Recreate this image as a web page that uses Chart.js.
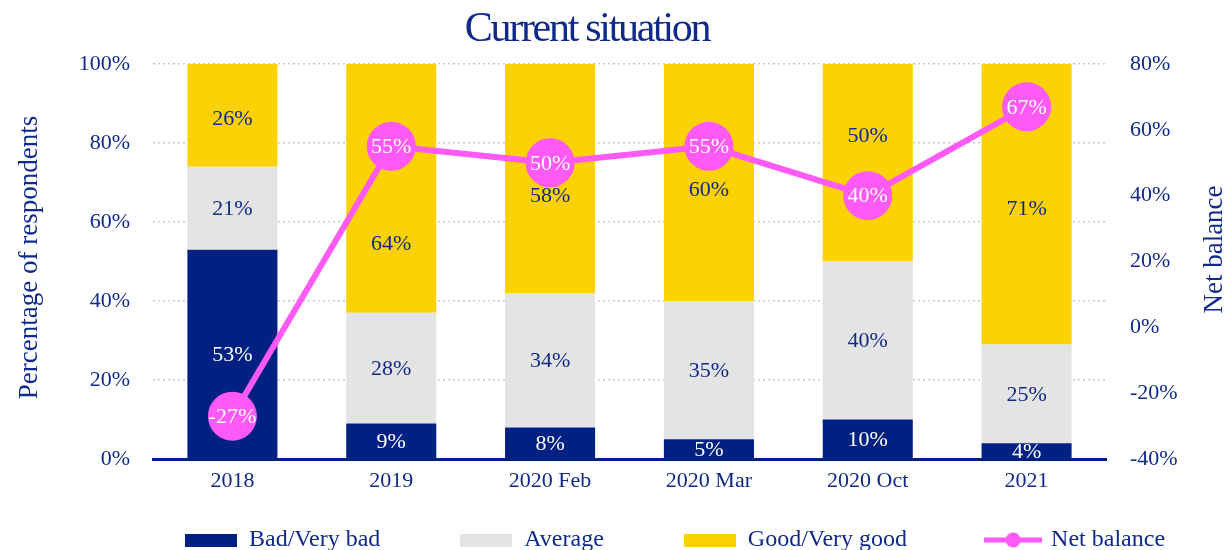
<!DOCTYPE html>
<html>
<head>
<meta charset="utf-8">
<script src="https://cdn.jsdelivr.net/npm/chart.js@4"></script>
<style>
  html, body { margin: 0; padding: 0; background: #fff; }
  #wrap { width: 1227px; height: 550px; }
</style>
</head>
<body>
<div id="wrap"><canvas id="chart"></canvas></div>
<script>
// chart data
const categories = ['2018', '2019', '2020 Feb', '2020 Mar', '2020 Oct', '2021'];
const bad = [53, 9, 8, 5, 10, 4];
const average = [21, 28, 34, 35, 40, 25];
const good = [26, 64, 58, 60, 50, 71];
const netBalance = [-27, 55, 50, 55, 40, 67];
const leftTicks = [0, 20, 40, 60, 80, 100];
const rightTicks = [-40, -20, 0, 20, 40, 60, 80];

const NAVY = '#002082';
const GREY = '#e4e4e4';
const YELLOW = '#fdd203';
const MAGENTA = '#ff5af6';
const TEXT = '#0f2a8a';
const FONT = '"Liberation Serif", "Times New Roman", serif';

// legend markers
function boxImg(color) {
    const c = document.createElement('canvas');
    c.width = 52; c.height = 13;
    const g = c.getContext('2d');
    g.fillStyle = color;
    g.fillRect(0, 0, 52, 13);
    return c;
}
function lineImg(color) {
    const c = document.createElement('canvas');
    c.width = 58; c.height = 16;
    const g = c.getContext('2d');
    g.strokeStyle = color;
    g.lineWidth = 5;
    g.beginPath(); g.moveTo(0, 8); g.lineTo(58, 8); g.stroke();
    g.fillStyle = color;
    g.beginPath(); g.arc(29, 8, 7.5, 0, Math.PI * 2); g.fill();
    return c;
}

// value labels on bars and points
// labels in the yellow segments are nudged (px) to keep clear of the circles
const nudge = { 2: [3, 57, 17, 7, -28, 4] };
const valueLabels = {
    id: 'valueLabels',
    afterDatasetDraw(chart, args) {
        const ds = chart.data.datasets[args.index];
        const meta = args.meta;
        const shift = nudge[args.index] || [];
        const ctx = chart.ctx;
        ctx.save();
        ctx.font = '22px ' + FONT;
        ctx.textAlign = 'center';
        ctx.textBaseline = 'middle';
        ctx.fillStyle = ds.labelColor;
        meta.data.forEach((el, i) => {
            const y = meta.type === 'bar' ? (el.y + el.base) / 2 : el.y;
            ctx.fillText(ds.data[i] + '%', el.x, y + 1 + (shift[i] || 0));
        });
        ctx.restore();
    }
};

// titles (main + both axis titles reading bottom to top) and legend placement
const extras = {
    id: 'extras',
    afterLayout(chart) {
        const lg = chart.legend;
        const pad = lg.options.labels.padding;
        const x0 = (lg.left + pad + lg.right - lg.lineWidths[0]) / 2;
        const dx = 185 - x0;
        lg.left += dx;
        lg.right += dx;
        lg.top = 540 - pad - 12;
    },
    afterDraw(chart) {
        const ctx = chart.ctx;
        const area = chart.chartArea;
        ctx.save();
        ctx.fillStyle = TEXT;
        ctx.textAlign = 'center';
        ctx.textBaseline = 'alphabetic';
        ctx.font = '42px ' + FONT;
        ctx.letterSpacing = '-2.3px';
        ctx.fillText('Current situation', 587, 41);
        ctx.letterSpacing = '0px';
        ctx.textBaseline = 'middle';
        ctx.font = '27px ' + FONT;
        ctx.save();
        ctx.translate(30, (area.top + area.bottom) / 2 - 4);
        ctx.rotate(-Math.PI / 2);
        ctx.fillText('Percentage of respondents', 0, 0);
        ctx.restore();
        ctx.save();
        ctx.translate(1215, (area.top + area.bottom) / 2 - 12);
        ctx.rotate(-Math.PI / 2);
        ctx.fillText('Net balance', 0, 0);
        ctx.restore();
        ctx.restore();
    }
};

const data = {
    labels: categories,
    datasets: [
        {
            type: 'bar',
            label: 'Bad/Very bad',
            data: bad,
            backgroundColor: NAVY,
            labelColor: '#ffffff',
            legendImg: boxImg(NAVY),
            yAxisID: 'y',
            order: 1
        },
        {
            type: 'bar',
            label: 'Average',
            data: average,
            backgroundColor: GREY,
            labelColor: TEXT,
            legendImg: boxImg(GREY),
            yAxisID: 'y',
            order: 1
        },
        {
            type: 'bar',
            label: 'Good/Very good',
            data: good,
            backgroundColor: YELLOW,
            labelColor: TEXT,
            legendImg: boxImg(YELLOW),
            yAxisID: 'y',
            order: 1
        },
        {
            type: 'line',
            label: 'Net balance',
            data: netBalance,
            borderColor: MAGENTA,
            backgroundColor: MAGENTA,
            borderWidth: 6,
            pointRadius: 24.5,
            pointHoverRadius: 24.5,
            pointBorderWidth: 0,
            labelColor: '#ffffff',
            legendImg: lineImg(MAGENTA),
            yAxisID: 'y1',
            order: 0,
            clip: false
        }
    ]
};

const options = {
    responsive: true,
    maintainAspectRatio: false,
    animation: false,
    layout: { padding: { top: 64, bottom: 0, left: 0, right: 0 } },
    datasets: {
        bar: { barPercentage: 0.567, categoryPercentage: 1 }
    },
    plugins: {
        title: { display: false },
        tooltip: { enabled: false },
        legend: {
            position: 'bottom',
            maxHeight: 50,
            labels: {
                usePointStyle: true,
                pointStyleWidth: 52,
                boxHeight: 13,
                padding: 80,
                color: TEXT,
                font: { family: FONT, size: 24 },
                generateLabels: chart => chart.data.datasets.map((ds, i) => ({
                    text: ds.label,
                    pointStyle: ds.legendImg,
                    fontColor: TEXT,
                    datasetIndex: i,
                    hidden: false,
                    lineWidth: 0,
                    strokeStyle: 'rgba(0,0,0,0)',
                    fillStyle: 'rgba(0,0,0,0)'
                }))
            }
        }
    },
    scales: {
        x: {
            stacked: true,
            grid: { display: false, drawTicks: false },
            border: { display: true, color: NAVY, width: 3 },
            ticks: { color: TEXT, font: { family: FONT, size: 22 }, padding: 9 },
            afterFit: scale => { scale.height = 41; }
        },
        y: {
            position: 'left',
            stacked: true,
            min: 0,
            max: 100,
            afterBuildTicks: scale => { scale.ticks = leftTicks.map(v => ({ value: v })); },
            grid: { color: '#c9c9c9', lineWidth: 1.5, drawTicks: false },
            border: { display: false, dash: [2, 3] },
            ticks: {
                color: TEXT,
                font: { family: FONT, size: 22 },
                padding: 23,
                callback: v => v + '%'
            },
            afterFit: scale => { scale.width = 153; }
        },
        y1: {
            position: 'right',
            stacked: false,
            min: -40,
            max: 80,
            afterBuildTicks: scale => { scale.ticks = rightTicks.map(v => ({ value: v })); },
            grid: { display: false, drawTicks: false },
            border: { display: false },
            ticks: {
                color: TEXT,
                font: { family: FONT, size: 22 },
                padding: 24,
                callback: v => v + '%'
            },
            afterFit: scale => { scale.width = 121; }
        }
    }
};

const ctx = document.getElementById('chart').getContext('2d');
const myChart = new Chart(ctx, {
    type: 'bar',
    data: data,
    options: options,
    plugins: [valueLabels, extras]
});
</script>
</body>
</html>
